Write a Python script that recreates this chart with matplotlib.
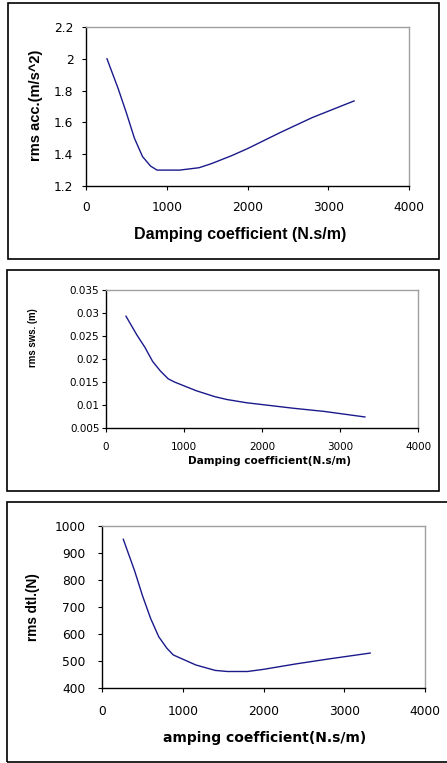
import numpy as np
import matplotlib
matplotlib.use('Agg')
import matplotlib.pyplot as plt
from matplotlib.patches import Rectangle

plt.rcParams['font.family'] = ['Liberation Sans', 'DejaVu Sans']

# damping coefficient (N.s/m)
damping = [260, 400, 500, 600, 700, 800, 880, 1160, 1400, 1550, 1800, 2000, 2400, 2800, 3320]

# rms body acceleration (m/s^2)
rms_acc = [2.0, 1.81, 1.66, 1.50, 1.385, 1.325, 1.30, 1.30, 1.315, 1.34, 1.39, 1.435, 1.535, 1.63, 1.735]

# rms suspension working space (m)
rms_sws = [0.0293, 0.0252, 0.0226, 0.0195, 0.0174, 0.0157, 0.0150, 0.0131, 0.0118, 0.0112,
           0.0105, 0.0101, 0.0093, 0.0086, 0.0074]

# rms dynamic tyre load (N)
rms_dtl = [950, 834, 740, 657, 590, 548, 523, 486, 466, 462, 462, 470, 490, 508, 530]

W, H = 447, 763
fig = plt.figure(figsize=(W / 100, H / 100), dpi=100)


def px_axes(left, top, right, bottom):
    return fig.add_axes([left / W, 1 - bottom / H, (right - left) / W, (bottom - top) / H])


def box(left, top, right, bottom):
    fig.patches.append(Rectangle((left / W, 1 - bottom / H), (right - left) / W, (bottom - top) / H,
                                 transform=fig.transFigure, fill=False, edgecolor='black', lw=1.2))


def style(ax, fs, xpad, ypad):
    ax.spines['top'].set_color('#a0a0a0')
    ax.spines['right'].set_color('#a0a0a0')
    ax.spines['left'].set_color('black')
    ax.spines['bottom'].set_color('black')
    for s in ax.spines.values():
        s.set_linewidth(1.0)
    ax.tick_params(direction='out', length=3, width=0.8, labelsize=fs)
    ax.tick_params(axis='x', pad=xpad)
    ax.tick_params(axis='y', pad=ypad)
    for lab in ax.get_xticklabels() + ax.get_yticklabels():
        lab.set_family('DejaVu Sans')
    ax.set_xlim(0, 4000)


def labels(ax, xtext, xpos, xfs, ytext, ypos, yfs, family='Liberation Sans'):
    ax.set_xlabel(xtext, fontsize=xfs, fontweight='bold', family=family, va='center', ha='center')
    ax.xaxis.set_label_coords(xpos[0] / W, 1 - xpos[1] / H, transform=fig.transFigure)
    ax.set_ylabel(ytext, fontsize=yfs, fontweight='bold', family='Liberation Sans', va='center', ha='center')
    ax.yaxis.set_label_coords(ypos[0] / W, 1 - ypos[1] / H, transform=fig.transFigure)


line_color = '#1a1a8c'
ticks_x = [0, 1000, 2000, 3000, 4000]

# panel 1
box(8, 3, 439, 259)
ax1 = px_axes(86, 27, 409, 186)
ax1.plot(damping, rms_acc, color=line_color, lw=1.0)
ax1.set_xticks(ticks_x)
ax1.set_ylim(1.2, 2.2)
ax1.set_yticks([1.2, 1.4, 1.6, 1.8, 2.0, 2.2])
ax1.set_yticklabels(['1.2', '1.4', '1.6', '1.8', '2', '2.2'])
style(ax1, 8.8, 8, 6)
labels(ax1, 'Damping coefficient (N.s/m)', (240, 234), 11.5, 'rms acc.(m/s^2)', (36, 105), 10.5)

# panel 2
box(7, 270, 439, 491)
ax2 = px_axes(105.7, 290, 418, 428)
ax2.plot(damping, rms_sws, color=line_color, lw=1.0)
ax2.set_xticks(ticks_x)
ax2.set_ylim(0.005, 0.035)
ax2.set_yticks([0.005, 0.01, 0.015, 0.02, 0.025, 0.03, 0.035])
ax2.set_yticklabels(['0.005', '0.01', '0.015', '0.02', '0.025', '0.03', '0.035'])
style(ax2, 7.5, 7, 1.5)
labels(ax2, 'Damping coefficient(N.s/m)', (270, 461), 7.6, 'rms sws. (m)', (33, 338), 6.9,
       family='DejaVu Sans')

# panel 3
box(7, 502, 470, 762)
ax3 = px_axes(102.3, 525.7, 425, 688.3)
ax3.plot(damping, rms_dtl, color=line_color, lw=1.0)
ax3.set_xticks(ticks_x)
ax3.set_ylim(400, 1000)
ax3.set_yticks([400, 500, 600, 700, 800, 900, 1000])
style(ax3, 8.8, 9, 9)
labels(ax3, 'amping coefficient(N.s/m)', (265, 738), 10, 'rms dtl.(N)', (33, 607), 9.8,
       family='DejaVu Sans')

fig.savefig('out.png', dpi=100)
